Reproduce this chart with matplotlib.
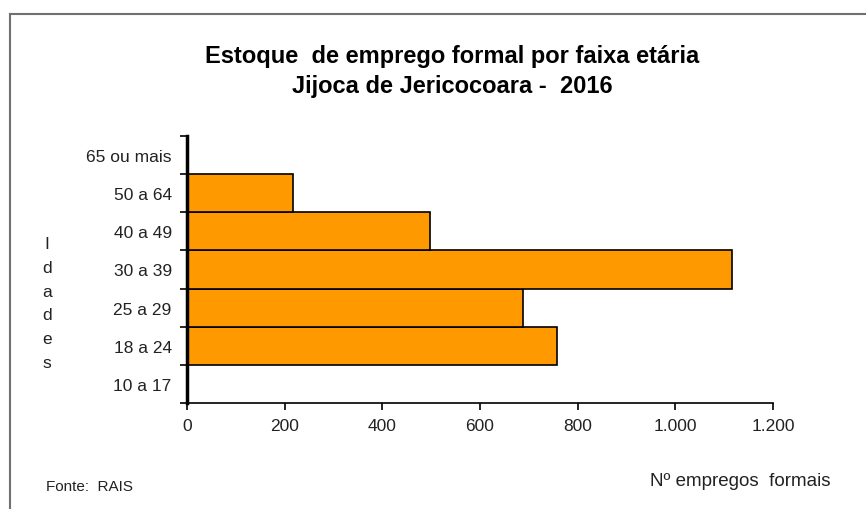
import matplotlib
matplotlib.use("Agg")
import matplotlib.pyplot as plt
from matplotlib.lines import Line2D

# data
faixas = ["10 a 17", "18 a 24", "25 a 29", "30 a 39", "40 a 49", "50 a 64", "65 ou mais"]
empregos = [0, 758, 688, 1116, 498, 217, 0]
xticks = [0, 200, 400, 600, 800, 1000, 1200]
xticklabels = ["0", "200", "400", "600", "800", "1.000", "1.200"]

plt.rcParams['font.family'] = ['Liberation Sans', 'DejaVu Sans']

fig = plt.figure(figsize=(8.66, 5.10), dpi=100)
ax = fig.add_axes([187/866, 1-404/510, (773-187)/866, (404-137)/510])

ypos = list(range(len(faixas)))
ax.barh(ypos, empregos, height=1.0, color="#FF9900", edgecolor="black", linewidth=1.2)

ax.set_xlim(0, 1200)
ax.set_ylim(-0.5, len(faixas) - 0.5)
ax.set_xticks(xticks)
ax.set_xticklabels(xticklabels, fontsize=12.5, color='#222222')
ax.set_yticks(ypos)
ax.set_yticklabels(faixas, fontsize=12.5, color='#222222')
ax.tick_params(axis='y', length=0, pad=11)
# tick marks on category boundaries
ax.set_yticks([y - 0.5 for y in ypos] + [len(faixas) - 0.5], minor=True)
ax.tick_params(axis='y', which='minor', length=5, width=1.2, direction='out')
ax.tick_params(axis='x', length=5, width=1.2, direction='out', pad=6)

for s in ['top', 'right']:
    ax.spines[s].set_visible(False)
ax.spines['left'].set_linewidth(2.5)
ax.spines['bottom'].set_linewidth(1.2)

fig.text(452/866, 1-57/510, "Estoque  de emprego formal por faixa etária",
         ha='center', va='center', fontsize=17, fontweight='bold')
fig.text(452/866, 1-87/510, "Jijoca de Jericocoara -  2016",
         ha='center', va='center', fontsize=17, fontweight='bold')

fig.text(47/866, 1-304/510, "I\nd\na\nd\ne\ns", ha='center', va='center',
         fontsize=12.5, linespacing=1.73, color='#222222')
fig.text(46/866, 1-487/510, "Fonte:  RAIS", ha='left', va='center', fontsize=11,
         color='#222222')
fig.text(830/866, 1-482/510, "Nº empregos  formais", ha='right', va='center',
         fontsize=13.5, color='#222222')

# outer frame
fig.add_artist(Line2D([10/866, 10/866], [0, 1-15/510], transform=fig.transFigure,
                      color='#707070', linewidth=1.5))
fig.add_artist(Line2D([10/866, 1], [1-15/510, 1-15/510], transform=fig.transFigure,
                      color='#707070', linewidth=1.5))

fig.savefig("out.png", dpi=100)
